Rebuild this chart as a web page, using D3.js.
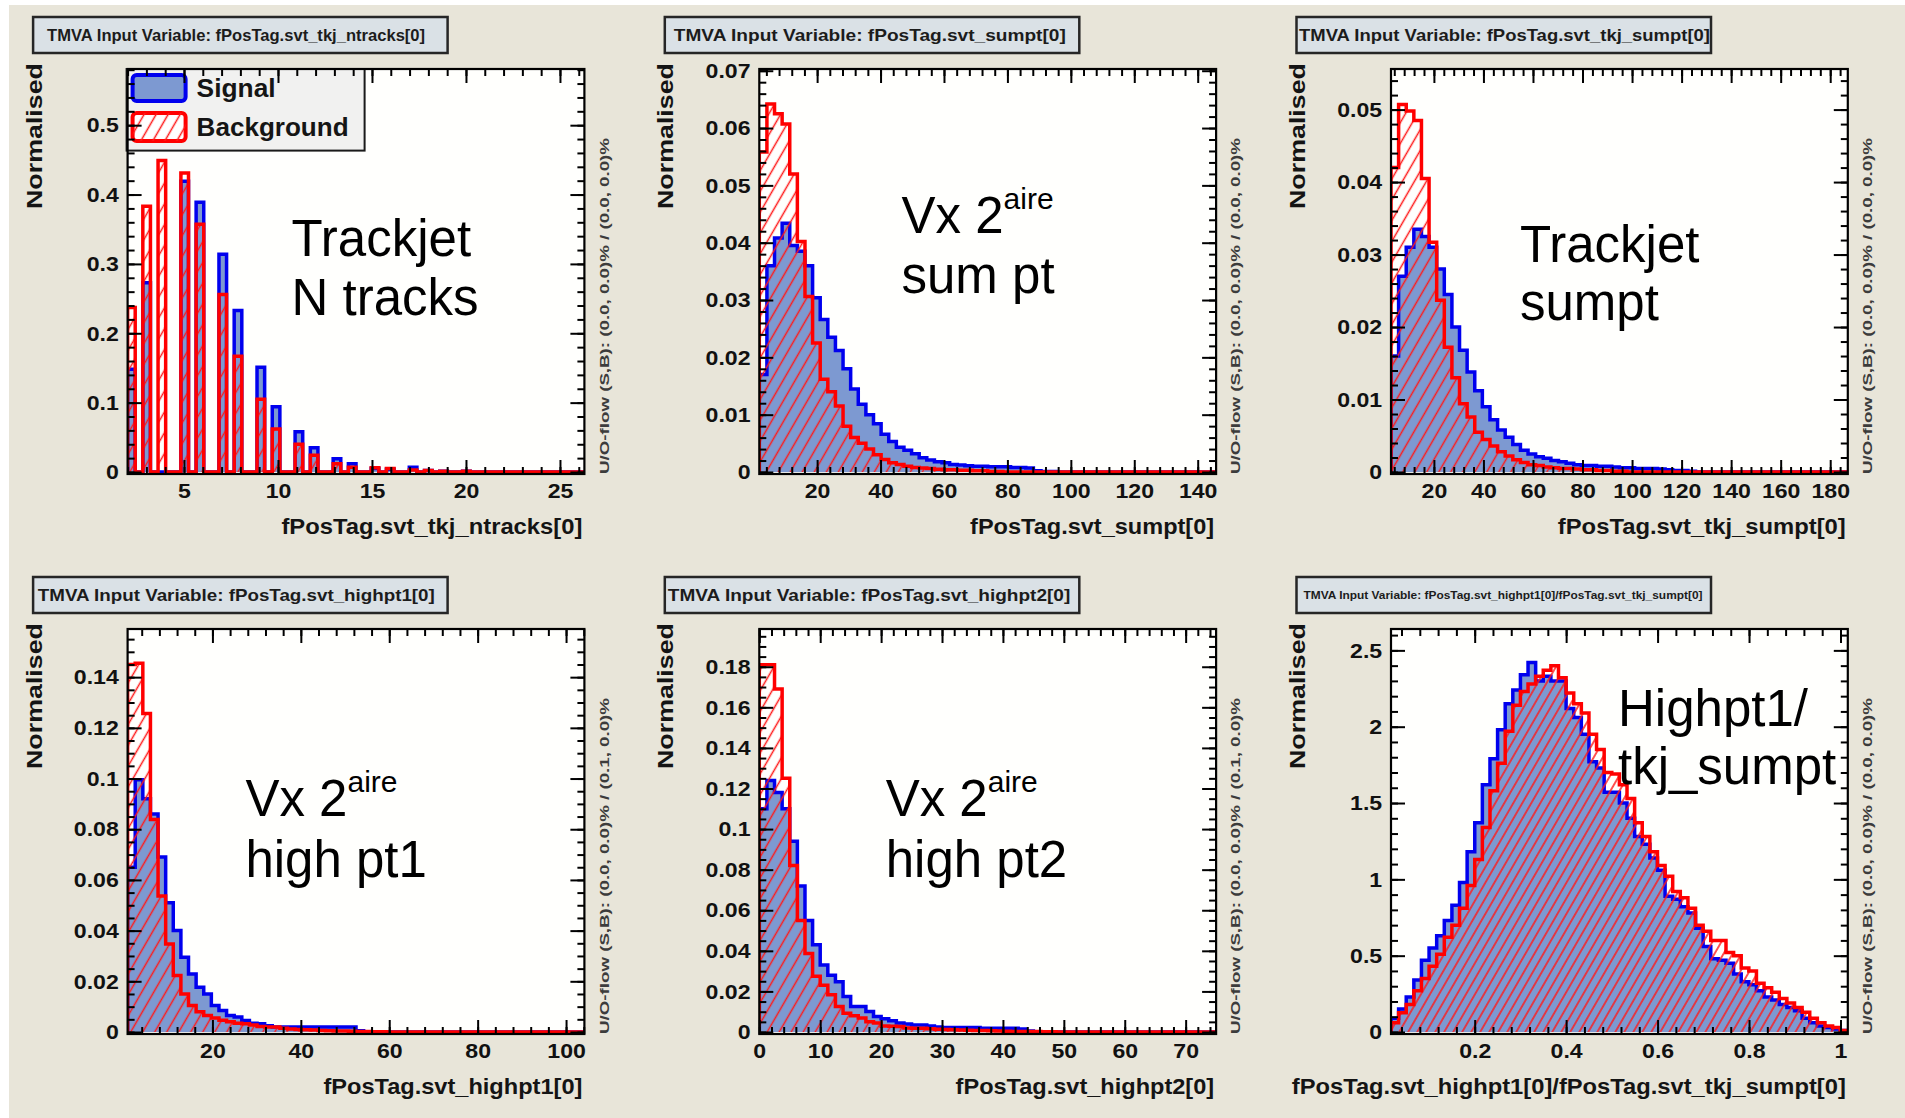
<!DOCTYPE html>
<html>
<head>
<meta charset="utf-8">
<script src="https://cdn.jsdelivr.net/npm/d3@7"></script>
<style>
  html, body { margin: 0; padding: 0; background: #e8e5d9; }
  svg { display: block; }
  text { font-family: "Liberation Sans", Arial, sans-serif; }
</style>
</head>
<body>
<svg id="chart" width="1905" height="1118"></svg>
<script>
// TMVA input variable plots, signal (blue) vs background (red hatched), 60 bins each.

const NBINS = 60;

// Panel 1: ntracks is an integer, so only some of the 60 bins get filled
const ntracksValues = [2, 3, 4, 5, 6, 7, 8, 9, 10, 11, 12, 13, 14, 15, 16, 17, 18, 19, 20];
const ntracksSig = [0.148, 0.273, 0.0, 0.419, 0.389, 0.314, 0.233, 0.151, 0.094, 0.058, 0.035, 0.019, 0.012, 0.005, 0.004, 0.007, 0.002, 0.001, 0.001];
const ntracksBkg = [0.237, 0.383, 0.449, 0.431, 0.357, 0.256, 0.167, 0.105, 0.062, 0.040, 0.024, 0.012, 0.007, 0.006, 0.005, 0.003, 0.002, 0.001, 0.001];

// Panel 2: svt_sumpt
const sumptSig = [
  0.0170, 0.0360, 0.0408, 0.0434, 0.0395, 0.0385, 0.0360, 0.0304, 0.0266, 0.0235,
  0.0212, 0.0180, 0.0145, 0.0118, 0.0100, 0.0084, 0.0066, 0.0053, 0.0043, 0.0038,
  0.0032, 0.0025, 0.0021, 0.0018, 0.0016, 0.0013, 0.0012, 0.0011, 0.0010, 0.0010,
  0.0009, 0.0009, 0.0009, 0.0008, 0.0008, 0.0007, 0.0002, 0.0001, 0.0001, 0,
  0, 0, 0, 0, 0, 0, 0, 0, 0, 0,
  0, 0, 0, 0, 0, 0, 0, 0, 0, 0];
const sumptBkg = [
  0.0558, 0.0642, 0.0625, 0.0607, 0.0520, 0.0402, 0.0306, 0.0225, 0.0162, 0.0140,
  0.0115, 0.0080, 0.0060, 0.0050, 0.0040, 0.0030, 0.0022, 0.0016, 0.0013, 0.0010,
  0.0008, 0.0007, 0.0006, 0.0005, 0.0004, 0.0004, 0.0003, 0.0003, 0.0002, 0.0002,
  0.0001, 0.0001, 0, 0, 0, 0, 0, 0, 0, 0,
  0, 0, 0, 0, 0, 0, 0, 0, 0, 0,
  0, 0, 0, 0, 0, 0, 0, 0, 0, 0];

// Panel 3: svt_tkj_sumpt
const tkjSumptSig = [
  0.0160, 0.0270, 0.0310, 0.0335, 0.0325, 0.0310, 0.0280, 0.0245, 0.0200, 0.0168,
  0.0138, 0.0112, 0.0090, 0.0072, 0.0058, 0.0048, 0.0038, 0.0030, 0.0025, 0.0021,
  0.0019, 0.0016, 0.0014, 0.0012, 0.0010, 0.0009, 0.0009, 0.0008, 0.0008, 0.0007,
  0.0006, 0.0006, 0.0005, 0.0005, 0.0005, 0.0004, 0.0003, 0.0002, 0.0002, 0.0001,
  0, 0, 0, 0, 0, 0, 0, 0, 0, 0,
  0, 0, 0, 0, 0, 0, 0, 0, 0, 0];
const tkjSumptBkg = [
  0.0420, 0.0507, 0.0498, 0.0485, 0.0405, 0.0317, 0.0237, 0.0172, 0.0130, 0.0094,
  0.0076, 0.0055, 0.0045, 0.0036, 0.0028, 0.0022, 0.0017, 0.0013, 0.0010, 0.0009,
  0.0007, 0.0006, 0.0005, 0.0005, 0.0004, 0.0003, 0.0003, 0.0002, 0.0002, 0.0001,
  0.0001, 0, 0, 0, 0, 0, 0, 0, 0, 0,
  0, 0, 0, 0, 0, 0, 0, 0, 0, 0,
  0, 0, 0, 0, 0, 0, 0, 0, 0, 0];

// Panel 4: svt_highpt1
const highpt1Sig = [
  0.0650, 0.0995, 0.0920, 0.0860, 0.0690, 0.0510, 0.0400, 0.0295, 0.0229, 0.0177,
  0.0150, 0.0105, 0.0085, 0.0065, 0.0059, 0.0045, 0.0035, 0.0033, 0.0025, 0.0020,
  0.0020, 0.0020, 0.0020, 0.0020, 0.0020, 0.0020, 0.0020, 0.0020, 0.0020, 0.0020,
  0.0005, 0, 0, 0, 0, 0, 0, 0, 0, 0,
  0, 0, 0, 0, 0, 0, 0, 0, 0, 0,
  0, 0, 0, 0, 0, 0, 0, 0, 0, 0];
const highpt1Bkg = [
  0.1450, 0.1455, 0.1257, 0.0838, 0.0537, 0.0347, 0.0223, 0.0150, 0.0105, 0.0080,
  0.0065, 0.0055, 0.0046, 0.0040, 0.0035, 0.0033, 0.0028, 0.0022, 0.0020, 0.0020,
  0.0015, 0.0012, 0.0010, 0.0009, 0.0008, 0.0006, 0.0005, 0.0004, 0.0004, 0.0003,
  0.0002, 0.0002, 0.0001, 0.0001, 0, 0, 0, 0, 0, 0,
  0, 0, 0, 0, 0, 0, 0, 0, 0, 0,
  0, 0, 0, 0, 0, 0, 0, 0, 0, 0];

// Panel 5: svt_highpt2
const highpt2Sig = [
  0.1100, 0.1240, 0.1180, 0.1100, 0.0940, 0.0720, 0.0550, 0.0430, 0.0330, 0.0280,
  0.0248, 0.0175, 0.0126, 0.0126, 0.0101, 0.0077, 0.0065, 0.0055, 0.0044, 0.0040,
  0.0035, 0.0035, 0.0030, 0.0025, 0.0022, 0.0022, 0.0022, 0.0022, 0.0022, 0.0018,
  0.0018, 0.0018, 0.0018, 0.0018, 0.0015, 0.0005, 0, 0, 0, 0,
  0, 0, 0, 0, 0, 0, 0, 0, 0, 0,
  0, 0, 0, 0, 0, 0, 0, 0, 0, 0];
const highpt2Bkg = [
  0.1810, 0.1810, 0.1690, 0.1250, 0.0820, 0.0550, 0.0387, 0.0275, 0.0230, 0.0183,
  0.0126, 0.0093, 0.0080, 0.0069, 0.0050, 0.0044, 0.0030, 0.0028, 0.0027, 0.0020,
  0.0019, 0.0018, 0.0016, 0.0014, 0.0012, 0.0011, 0.0010, 0.0009, 0.0008, 0.0007,
  0.0006, 0.0005, 0.0004, 0.0003, 0.0003, 0.0002, 0.0002, 0.0001, 0.0001, 0,
  0, 0, 0, 0, 0, 0, 0, 0, 0, 0,
  0, 0, 0, 0, 0, 0, 0, 0, 0, 0];

// Panel 6: highpt1 / tkj_sumpt
const ratioSig = [
  0.09, 0.15, 0.23, 0.34, 0.47, 0.55, 0.63, 0.73, 0.83, 0.98,
  1.18, 1.37, 1.62, 1.79, 1.98, 2.15, 2.24, 2.34, 2.42, 2.30,
  2.33, 2.30, 2.30, 2.12, 2.06, 1.95, 1.77, 1.73, 1.57, 1.57,
  1.50, 1.40, 1.28, 1.23, 1.14, 1.06, 0.89, 0.87, 0.82, 0.78,
  0.68, 0.56, 0.48, 0.47, 0.45, 0.38, 0.33, 0.31, 0.27, 0.23,
  0.21, 0.18, 0.16, 0.14, 0.09, 0.06, 0.04, 0.03, 0.02, 0.01];
const ratioBkg = [
  0.06, 0.126, 0.18, 0.27, 0.35, 0.43, 0.51, 0.62, 0.70, 0.81,
  0.96, 1.13, 1.34, 1.58, 1.76, 1.97, 2.14, 2.23, 2.28, 2.33,
  2.37, 2.40, 2.32, 2.22, 2.15, 2.09, 1.95, 1.85, 1.70, 1.69,
  1.62, 1.53, 1.37, 1.28, 1.18, 1.09, 1.02, 0.92, 0.88, 0.81,
  0.70, 0.66, 0.60, 0.60, 0.52, 0.50, 0.42, 0.40, 0.32, 0.29,
  0.26, 0.22, 0.19, 0.16, 0.13, 0.09, 0.06, 0.04, 0.03, 0.01];

// Axis ranges and tick labels
const xRanges = [[2.0, 26.3], [1.77, 145.8], [2.68, 187.1], [0.81, 104.15], [0, 75], [0.017, 1.016]];
const yMaxes = [0.581, 0.0703, 0.0556, 0.159, 0.1986, 2.64];
const xTickLabels = [
  [5, 10, 15, 20, 25],
  [20, 40, 60, 80, 100, 120, 140],
  [20, 40, 60, 80, 100, 120, 140, 160, 180],
  [20, 40, 60, 80, 100],
  [0, 10, 20, 30, 40, 50, 60, 70],
  [0.2, 0.4, 0.6, 0.8, 1]
];
const yTickLabels = [
  [0, 0.1, 0.2, 0.3, 0.4, 0.5],
  [0, 0.01, 0.02, 0.03, 0.04, 0.05, 0.06, 0.07],
  [0, 0.01, 0.02, 0.03, 0.04, 0.05],
  [0, 0.02, 0.04, 0.06, 0.08, 0.1, 0.12, 0.14],
  [0, 0.02, 0.04, 0.06, 0.08, 0.1, 0.12, 0.14, 0.16, 0.18],
  [0, 0.5, 1, 1.5, 2, 2.5]
];
const xMinorSteps = [1, 4, 4, 4, 2, 0.04];
const yMinorSteps = [0.02, 0.002, 0.002, 0.005, 0.005, 0.1];

const variableNames = [
  'fPosTag.svt_tkj_ntracks[0]',
  'fPosTag.svt_sumpt[0]',
  'fPosTag.svt_tkj_sumpt[0]',
  'fPosTag.svt_highpt1[0]',
  'fPosTag.svt_highpt2[0]',
  'fPosTag.svt_highpt1[0]/fPosTag.svt_tkj_sumpt[0]'
];
const overflowTexts = [
  'U/O-flow (S,B): (0.0, 0.0)% / (0.0, 0.0)%',
  'U/O-flow (S,B): (0.0, 0.0)% / (0.0, 0.0)%',
  'U/O-flow (S,B): (0.0, 0.0)% / (0.0, 0.0)%',
  'U/O-flow (S,B): (0.0, 0.0)% / (0.1, 0.0)%',
  'U/O-flow (S,B): (0.0, 0.0)% / (0.1, 0.0)%',
  'U/O-flow (S,B): (0.0, 0.0)% / (0.0, 0.0)%'
];
// annotation lines; "^" marks a superscript part
const notes = [
  ['Trackjet', 'N tracks'],
  ['Vx 2^aire', 'sum pt'],
  ['Trackjet', 'sumpt'],
  ['Vx 2^aire', 'high pt1'],
  ['Vx 2^aire', 'high pt2'],
  ['Highpt1/', 'tkj_sumpt']
];

// ---- layout ----
const W = 1905, H = 1118;
const FW = 456.8, FH = 405;
const colX = [127.6, 759.3, 1391];
const rowY = [69, 629];

const titleLayout = [
  { dx: 14, len: 378, size: 17 }, { dx: 9, len: 392, size: 17 }, { dx: 2.5, len: 411, size: 17 },
  { dx: 4.7, len: 397, size: 17 }, { dx: 3, len: 402.5, size: 17 }, { dx: 7, len: 399, size: 10 }
];
const xTitleLen = [301, 244, 288, 259, 258.5, 554];
const noteLayout = [
  { dx: 164, dy: [187, 246] }, { dx: 142.2, dy: [164, 224] }, { dx: 129, dy: [193, 251] },
  { dx: 117.8, dy: [187, 248] }, { dx: 126.4, dy: [187, 248] }, { dx: 227, dy: [97, 155] }
];

const svg = d3.select('#chart');
svg.append('rect').attr('width', W).attr('height', H).attr('fill', '#e8e5d9');
svg.append('rect').attr('width', 9).attr('height', H).attr('fill', '#ffffff');
svg.append('rect').attr('width', W).attr('height', 5).attr('fill', '#ffffff');

const defs = svg.append('defs');
function makeHatch(id, s) {
  const p = defs.append('pattern')
    .attr('id', id)
    .attr('patternUnits', 'userSpaceOnUse')
    .attr('width', s).attr('height', s)
    .attr('patternTransform', 'rotate(30)');
  p.append('line')
    .attr('x1', s / 2).attr('x2', s / 2).attr('y1', -1).attr('y2', s + 1)
    .attr('stroke', '#ff1a1a').attr('stroke-width', 1.5);
}
makeHatch('hatchA', 10.4);
makeHatch('hatchB', 7.8);

// Fill the integer ntracks values into the 60-bin histogram
function binIntegers(values, weights, range) {
  const w = (range[1] - range[0]) / NBINS;
  const out = new Array(NBINS).fill(0);
  values.forEach((v, i) => {
    const k = Math.floor((v - range[0]) / w + 1e-9);
    if (k >= 0 && k < NBINS) out[k] += weights[i];
  });
  return out;
}

const sigSeries = [binIntegers(ntracksValues, ntracksSig, xRanges[0]), sumptSig, tkjSumptSig, highpt1Sig, highpt2Sig, ratioSig];
const bkgSeries = [binIntegers(ntracksValues, ntracksBkg, xRanges[0]), sumptBkg, tkjSumptBkg, highpt1Bkg, highpt2Bkg, ratioBkg];

function minorTicks(range, step) {
  const start = Math.ceil(range[0] / step - 1e-6) * step;
  return d3.range(start, range[1] + 1e-9, step);
}

function drawPanel(i) {
  const col = i % 3, row = Math.floor(i / 3);
  const left = colX[col], top = rowY[row];
  const right = left + FW, bottom = top + FH;
  const xr = xRanges[i];
  const x = d3.scaleLinear().domain(xr).range([left, right]);
  const y = d3.scaleLinear().domain([0, yMaxes[i]]).range([bottom - 2, top]);
  const g = svg.append('g');

  // title box
  const tl = titleLayout[i];
  g.append('rect')
    .attr('x', left - 94.5).attr('y', top - 52)
    .attr('width', 414.5).attr('height', 36)
    .attr('fill', '#dae1e6').attr('stroke', '#262626').attr('stroke-width', 2.5);
  g.append('text')
    .attr('x', left - 94.5 + tl.dx).attr('y', top - 34 + tl.size * 0.36)
    .attr('font-size', tl.size).attr('font-weight', 'bold').attr('fill', '#1c1c1c')
    .attr('textLength', tl.len).attr('lengthAdjust', 'spacingAndGlyphs')
    .text('TMVA Input Variable: ' + variableNames[i]);

  // frame
  g.append('rect')
    .attr('x', left).attr('y', top).attr('width', FW).attr('height', FH)
    .attr('fill', '#fffffd');

  // histograms
  const clipId = 'clip' + i;
  defs.append('clipPath').attr('id', clipId)
    .append('rect').attr('x', left).attr('y', top).attr('width', FW).attr('height', FH + 2);
  const edges = d3.range(NBINS + 1).map(k => xr[0] + k * (xr[1] - xr[0]) / NBINS);
  const pts = vals => [[edges[0], 0]]
    .concat(vals.map((v, k) => [edges[k], v]))
    .concat([[edges[NBINS], vals[NBINS - 1]], [edges[NBINS], 0]]);
  const line = d3.line().x(d => x(d[0])).y(d => y(d[1])).curve(d3.curveStepAfter);
  const area = d3.area().x(d => x(d[0])).y0(y(0)).y1(d => y(d[1])).curve(d3.curveStepAfter);

  const hg = g.append('g').attr('clip-path', `url(#${clipId})`);
  const sig = pts(sigSeries[i]);
  const bkg = pts(bkgSeries[i]);
  hg.append('path').attr('d', area(sig)).attr('fill', '#7d99d1');
  hg.append('path').attr('d', line(sig)).attr('fill', 'none')
    .attr('stroke', '#0000ee').attr('stroke-width', 3.5);
  hg.append('path').attr('d', area(bkg)).attr('fill', `url(#${i === 5 ? 'hatchB' : 'hatchA'})`);
  hg.append('path').attr('d', line(bkg)).attr('fill', 'none')
    .attr('stroke', '#ff0000').attr('stroke-width', 3.5);

  // legend (first panel only)
  if (i === 0) {
    const lg = g.append('g');
    lg.append('rect').attr('x', left - 1).attr('y', top).attr('width', 238).attr('height', 81.6)
      .attr('fill', '#f1f1f0').attr('stroke', '#1a1a1a').attr('stroke-width', 2);
    lg.append('rect').attr('x', left + 5).attr('y', top + 6).attr('width', 53).attr('height', 26).attr('rx', 4)
      .attr('fill', '#7d99d1').attr('stroke', '#0000ee').attr('stroke-width', 4);
    lg.append('rect').attr('x', left + 5).attr('y', top + 44).attr('width', 53).attr('height', 28).attr('rx', 4)
      .attr('fill', '#ffffff').attr('stroke', '#ff0000').attr('stroke-width', 4);
    lg.append('rect').attr('x', left + 5).attr('y', top + 44).attr('width', 53).attr('height', 28).attr('rx', 4)
      .attr('fill', 'url(#hatchA)');
    lg.append('text').attr('x', left + 69).attr('y', top + 28)
      .attr('font-size', 25).attr('font-weight', 'bold').attr('fill', '#151515')
      .attr('textLength', 79).attr('lengthAdjust', 'spacingAndGlyphs').text('Signal');
    lg.append('text').attr('x', left + 69).attr('y', top + 67)
      .attr('font-size', 25).attr('font-weight', 'bold').attr('fill', '#151515')
      .attr('textLength', 152).attr('lengthAdjust', 'spacingAndGlyphs').text('Background');
  }

  // axes: major/minor ticks on all four sides, pointing inwards
  const ax = g.append('g');
  const put = (axis, tx, ty) => ax.append('g')
    .attr('transform', `translate(${tx},${ty})`)
    .call(axis)
    .call(s => s.select('.domain').remove());
  const xMinor = minorTicks(xr, xMinorSteps[i]);
  const yMinor = minorTicks([0, yMaxes[i]], yMinorSteps[i]);
  const fmt = d => String(d);
  put(d3.axisBottom(x).tickValues(xMinor).tickSize(-7).tickFormat(''), 0, bottom);
  put(d3.axisBottom(x).tickValues(xTickLabels[i]).tickSize(-14).tickPadding(9).tickFormat(fmt), 0, bottom);
  put(d3.axisTop(x).tickValues(xMinor).tickSize(-7).tickFormat(''), 0, top);
  put(d3.axisTop(x).tickValues(xTickLabels[i]).tickSize(-14).tickFormat(''), 0, top);
  put(d3.axisLeft(y).tickValues(yMinor).tickSize(-7).tickFormat(''), left, 0);
  put(d3.axisLeft(y).tickValues(yTickLabels[i]).tickSize(-14).tickPadding(8).tickFormat(fmt), left, 0);
  put(d3.axisRight(y).tickValues(yMinor).tickSize(-7).tickFormat(''), right, 0);
  put(d3.axisRight(y).tickValues(yTickLabels[i]).tickSize(-14).tickFormat(''), right, 0);
  ax.selectAll('g').attr('font-family', null).attr('font-size', null);
  ax.selectAll('line').attr('stroke', '#000').attr('stroke-width', 2);
  // ROOT's bold labels come out a little wider than Liberation Sans
  ax.selectAll('text')
    .attr('font-size', 21).attr('font-weight', 'bold').attr('fill', '#111')
    .attr('transform', 'scale(1.1,1)');

  g.append('rect')
    .attr('x', left).attr('y', top).attr('width', FW).attr('height', FH)
    .attr('fill', 'none').attr('stroke', '#000').attr('stroke-width', 2.2);

  // axis titles
  g.append('text')
    .attr('transform', `translate(${left - 93.6},${top - 6}) rotate(-90)`)
    .attr('text-anchor', 'end').attr('dy', '0.35em')
    .attr('font-size', 22).attr('font-weight', 'bold').attr('fill', '#141414')
    .attr('textLength', 146).attr('lengthAdjust', 'spacingAndGlyphs')
    .text('Normalised');
  g.append('text')
    .attr('x', right - 2).attr('y', bottom + 60)
    .attr('text-anchor', 'end')
    .attr('font-size', 22).attr('font-weight', 'bold').attr('fill', '#141414')
    .attr('textLength', xTitleLen[i]).attr('lengthAdjust', 'spacingAndGlyphs')
    .text(variableNames[i]);
  g.append('text')
    .attr('transform', `translate(${right + 20},${bottom}) rotate(-90)`)
    .attr('dy', '0.35em')
    .attr('font-size', 12.5).attr('font-weight', 'bold').attr('fill', '#3c3c3c')
    .attr('textLength', 336).attr('lengthAdjust', 'spacingAndGlyphs')
    .text(overflowTexts[i]);

  // big annotation
  const nl = noteLayout[i];
  notes[i].forEach((ln, j) => {
    const t = g.append('text')
      .attr('x', left + nl.dx).attr('y', top + nl.dy[j])
      .attr('font-size', 51).attr('fill', '#000');
    const parts = ln.split('^');
    t.append('tspan').text(parts[0]);
    if (parts[1]) {
      t.append('tspan').attr('font-size', 30).attr('dy', -24).text(parts[1]);
    }
  });
}

for (let i = 0; i < 6; i++) drawPanel(i);
</script>
</body>
</html>
